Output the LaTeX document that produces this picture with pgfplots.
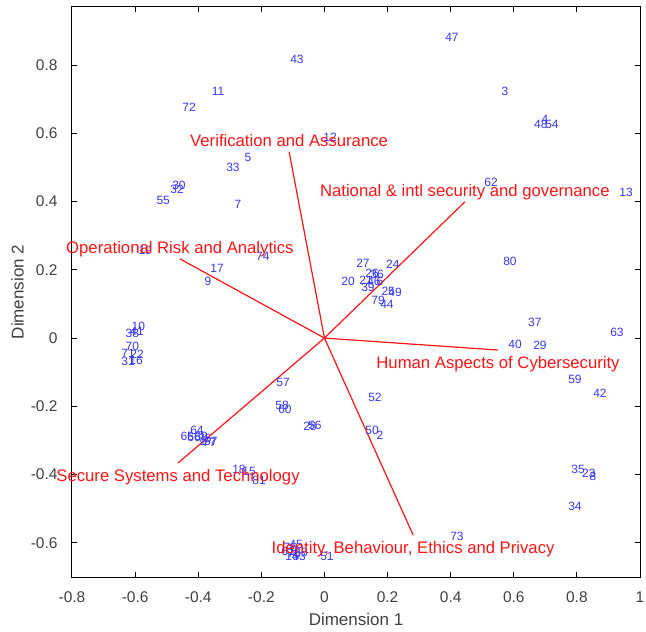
\documentclass[border=0pt]{standalone}
\usepackage{pgfplots}
\pgfplotsset{compat=1.18}
\usepackage{pgfplotstable}
\usepackage{fontspec}
\setmainfont{Liberation Sans}
\definecolor{numblue}{RGB}{55,55,250}
\definecolor{vecred}{RGB}{255,20,20}

\pgfplotstableread{
x y label
0.404 0.882 47
-0.087 0.818 43
0.572 0.724 3
-0.337 0.724 11
-0.429 0.677 72
0.699 0.642 4
0.686 0.627 48
0.721 0.627 54
0.018 0.589 12
-0.242 0.530 5
-0.290 0.501 33
-0.461 0.446 30
-0.467 0.437 32
-0.511 0.402 55
-0.274 0.393 7
0.528 0.457 62
0.956 0.428 13
-0.568 0.258 19
-0.195 0.238 74
-0.340 0.205 17
-0.369 0.167 9
0.122 0.220 27
0.217 0.217 24
0.075 0.167 20
0.151 0.191 26
0.167 0.188 36
0.132 0.170 21
0.157 0.167 46
0.176 0.167 6
0.138 0.150 39
0.202 0.138 25
0.224 0.135 49
0.170 0.111 79
0.198 0.100 44
0.588 0.226 80
0.667 0.047 37
0.927 0.018 63
0.604 -0.017 40
0.683 -0.020 29
0.794 -0.120 59
0.873 -0.161 42
0.160 -0.173 52
0.151 -0.270 50
0.176 -0.284 2
-0.131 -0.131 57
-0.134 -0.196 58
-0.125 -0.208 60
-0.046 -0.258 28
-0.030 -0.255 56
-0.590 0.033 10
-0.609 0.015 38
-0.594 0.021 41
-0.609 -0.023 70
-0.622 -0.044 71
-0.594 -0.047 22
-0.622 -0.067 31
-0.597 -0.064 16
-0.404 -0.270 64
-0.435 -0.287 65
-0.413 -0.290 66
-0.391 -0.287 69
-0.385 -0.302 1
-0.379 -0.293 75
-0.360 -0.302 67
-0.365 -0.305 77
-0.271 -0.384 18
-0.239 -0.390 15
-0.207 -0.416 81
0.804 -0.384 35
0.838 -0.396 23
0.851 -0.405 8
0.794 -0.492 34
0.420 -0.580 73
-0.090 -0.606 45
-0.115 -0.624 61
-0.074 -0.627 68
-0.103 -0.641 14
-0.080 -0.641 53
-0.096 -0.630 78
-0.108 -0.612 76
0.008 -0.641 51
}\obstable

\begin{document}
\begin{tikzpicture}
\begin{axis}[
  scale only axis,
  width=568pt, height=570pt,
  xmin=-0.8, xmax=1, ymin=-0.7, ymax=0.97,
  xtick={-0.8,-0.6,-0.4,-0.2,0,0.2,0.4,0.6,0.8,1},
  ytick={-0.6,-0.4,-0.2,0,0.2,0.4,0.6,0.8},
  tick align=inside, tick pos=both,
  major tick length=5pt,
  axis line style={line width=1pt},
  every tick/.style={black, line width=1pt},
  /pgf/number format/assume math mode=true,
  tick label style={font=\fontsize{15.5}{18}\selectfont, text=black!75},
  xticklabel style={yshift=-11pt},
  yticklabel style={xshift=-11pt},
  label style={font=\fontsize{17}{20}\selectfont, text=black!75},
  xlabel style={yshift=-4pt},
  xlabel={Dimension 1}, ylabel={Dimension 2},
  clip=false,
]
% variable vectors
\addplot[vecred, line width=1.2pt] coordinates {(0,0) (-0.112,0.546)};
\addplot[vecred, line width=1.2pt] coordinates {(0,0) (0.445,0.399)};
\addplot[vecred, line width=1.2pt] coordinates {(0,0) (-0.458,0.232)};
\addplot[vecred, line width=1.2pt] coordinates {(0,0) (0.550,-0.035)};
\addplot[vecred, line width=1.2pt] coordinates {(0,0) (-0.464,-0.366)};
\addplot[vecred, line width=1.2pt] coordinates {(0,0) (0.281,-0.577)};
% observation labels
\addplot[draw=none, mark=none, nodes near coords, point meta=explicit symbolic,
  every node near coord/.append style={anchor=center, inner sep=0pt,
    font=\fontsize{12}{14}\selectfont, text=numblue}]
  table[x=x, y=y, meta=label] {\obstable};
% variable labels (positive side)
\addplot[draw=none, mark=none, nodes near coords, point meta=explicit symbolic,
  every node near coord/.append style={anchor=base, inner sep=0pt, yshift=5pt,
    font=\fontsize{16.7}{19}\selectfont, text=vecred}]
  coordinates {(-0.112,0.546) [Verification and Assurance]
               (0.445,0.399) [National \& intl security and governance]
               (-0.458,0.232) [Operational Risk and Analytics]};
% variable labels (negative side)
\addplot[draw=none, mark=none, nodes near coords, point meta=explicit symbolic,
  every node near coord/.append style={anchor=base, inner sep=0pt, yshift=-18pt,
    font=\fontsize{16.7}{19}\selectfont, text=vecred}]
  coordinates {(0.550,-0.035) [Human Aspects of Cybersecurity]
               (-0.464,-0.366) [Secure Systems and Technology]
               (0.281,-0.577) [Identity, Behaviour, Ethics and Privacy]};
\end{axis}
\pgfresetboundingbox
\path[use as bounding box] ([shift={(-72pt,-54pt)}]current axis.south west) rectangle ([shift={(6pt,7pt)}]current axis.north east);
\end{tikzpicture}
\end{document}
